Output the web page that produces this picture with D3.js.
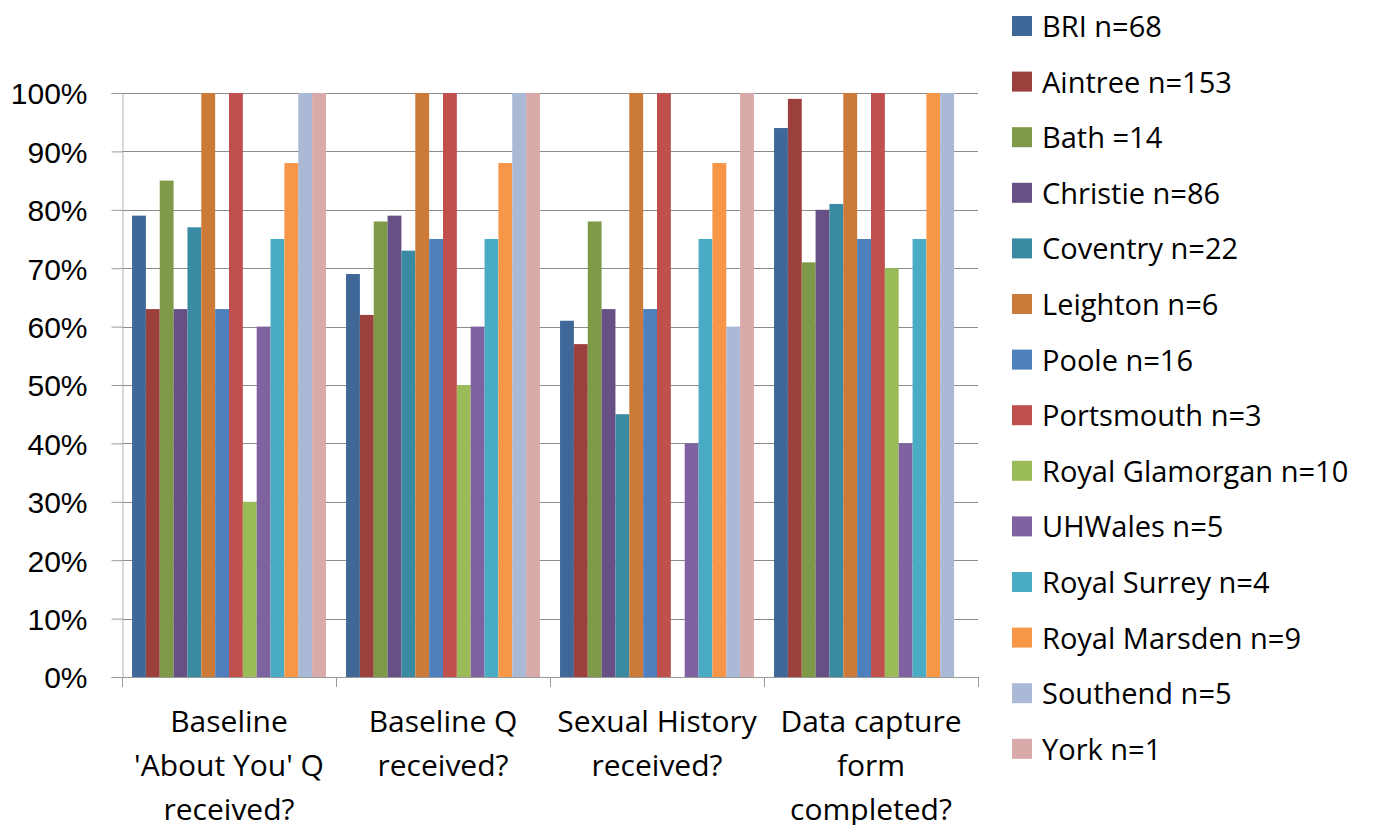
<!DOCTYPE html>
<html><head><meta charset="utf-8">
<script src="https://cdn.jsdelivr.net/npm/d3@7"></script>
<style>html,body{margin:0;padding:0;background:#fff;}svg{display:block;font-family:"Open Sans",sans-serif;}</style>
</head><body>
<svg id="c" width="1388" height="825"></svg>
<script>
const categories = [["Baseline","'About You' Q","received?"],["Baseline Q","received?"],["Sexual History","received?"],["Data capture","form","completed?"]];
const seriesNames = ["BRI n=68","Aintree n=153","Bath =14","Christie n=86","Coventry n=22","Leighton n=6","Poole n=16","Portsmouth n=3","Royal Glamorgan n=10","UHWales n=5","Royal Surrey n=4","Royal Marsden n=9","Southend n=5","York n=1"];
const seriesColors = ["#3F6899","#9C403D","#7E9948","#675083","#3A8BA2","#CB7B37","#4D80BC","#C0504D","#9BBA58","#7F63A1","#4AABC5","#F79646","#AAB9D6","#D9AAAA"];
// values per series, one per category (%)
const values = [
  [79,69,61,94],
  [63,62,57,99],
  [85,78,78,71],
  [63,79,63,80],
  [77,73,45,81],
  [100,100,100,100],
  [63,75,63,75],
  [100,100,100,100],
  [30,50,0,70],
  [60,60,40,40],
  [75,75,75,75],
  [88,88,88,100],
  [100,100,60,100],
  [100,100,100,0]
];
const yTicks = [0,10,20,30,40,50,60,70,80,90,100];

(function(){
const svg = d3.select("#c");
const pl = 122, pr = 978, pt = 93, pb = 677;
const x0 = d3.scaleBand().domain(d3.range(categories.length)).range([pl, pr]).paddingInner(0).paddingOuter(0);
const gap = 1.45;
const x1 = d3.scaleBand().domain(d3.range(seriesNames.length)).range([0, x0.bandwidth()])
  .paddingInner(0).paddingOuter(gap/2);
const y = d3.scaleLinear().domain([0,100]).range([pb, pt]);

// gridlines
svg.append("g").selectAll("line").data(yTicks.filter(d=>d>0)).join("line")
  .attr("x1", pl).attr("x2", pr).attr("y1", d=>Math.round(y(d))+0.5).attr("y2", d=>Math.round(y(d))+0.5)
  .attr("stroke", "#8c8c8c").attr("stroke-width", 1);

// bars
const gs = svg.append("g").selectAll("g").data(values).join("g").attr("fill",(d,i)=>seriesColors[i]);
gs.each(function(row, si){
  d3.select(this).selectAll("rect").data(row).join("rect")
    .attr("x",(v,ci)=>x0(ci)+x1(si))
    .attr("width", x1.bandwidth())
    .attr("y", v=>y(v))
    .attr("height", v=>y(0)-y(v));
});

// y axis
const yAxis = d3.axisLeft(y).tickValues(yTicks).tickFormat(d=>d+"%").tickSize(11).tickPadding(24);
const ya = svg.append("g").attr("transform",`translate(${pl+0.5},0)`).call(yAxis);
ya.select(".domain").attr("stroke","#b0b0b0");
ya.selectAll(".tick line").attr("stroke","#9a9a9a");
ya.selectAll("text").attr("font-size",30).attr("fill","#000").attr("dy","0.36em");

// x axis
svg.append("line").attr("x1",pl).attr("x2",pr).attr("y1",pb+0.5).attr("y2",pb+0.5).attr("stroke","#9a9a9a");
const bounds = d3.range(categories.length+1).map(i=> i<categories.length ? x0(i) : pr);
svg.append("g").selectAll("line").data(bounds).join("line")
  .attr("x1",d=>Math.round(d)+0.5).attr("x2",d=>Math.round(d)+0.5).attr("y1",pb).attr("y2",pb+10).attr("stroke","#9a9a9a");
svg.append("g").selectAll("text").data(categories).join("text")
  .attr("text-anchor","middle").attr("font-size",30).attr("fill","#000")
  .attr("x",(d,i)=>x0(i)+x0.bandwidth()/2)
  .each(function(lines){
    const cx = d3.select(this).attr("x");
    d3.select(this).selectAll("tspan").data(lines).join("tspan")
      .attr("x", cx).attr("y",(l,k)=>732+k*44).text(l=>l);
  });

// legend
const lg = svg.append("g").selectAll("g").data(seriesNames).join("g")
  .attr("transform",(d,i)=>`translate(1012,${26+i*55.6})`);
lg.append("rect").attr("x",0).attr("y",-10).attr("width",20).attr("height",20).attr("fill",(d,i)=>seriesColors[i]);
lg.append("text").attr("x",30).attr("y",11).attr("font-size",29).attr("fill","#000").text(d=>d);
})();
</script>
</body></html>
